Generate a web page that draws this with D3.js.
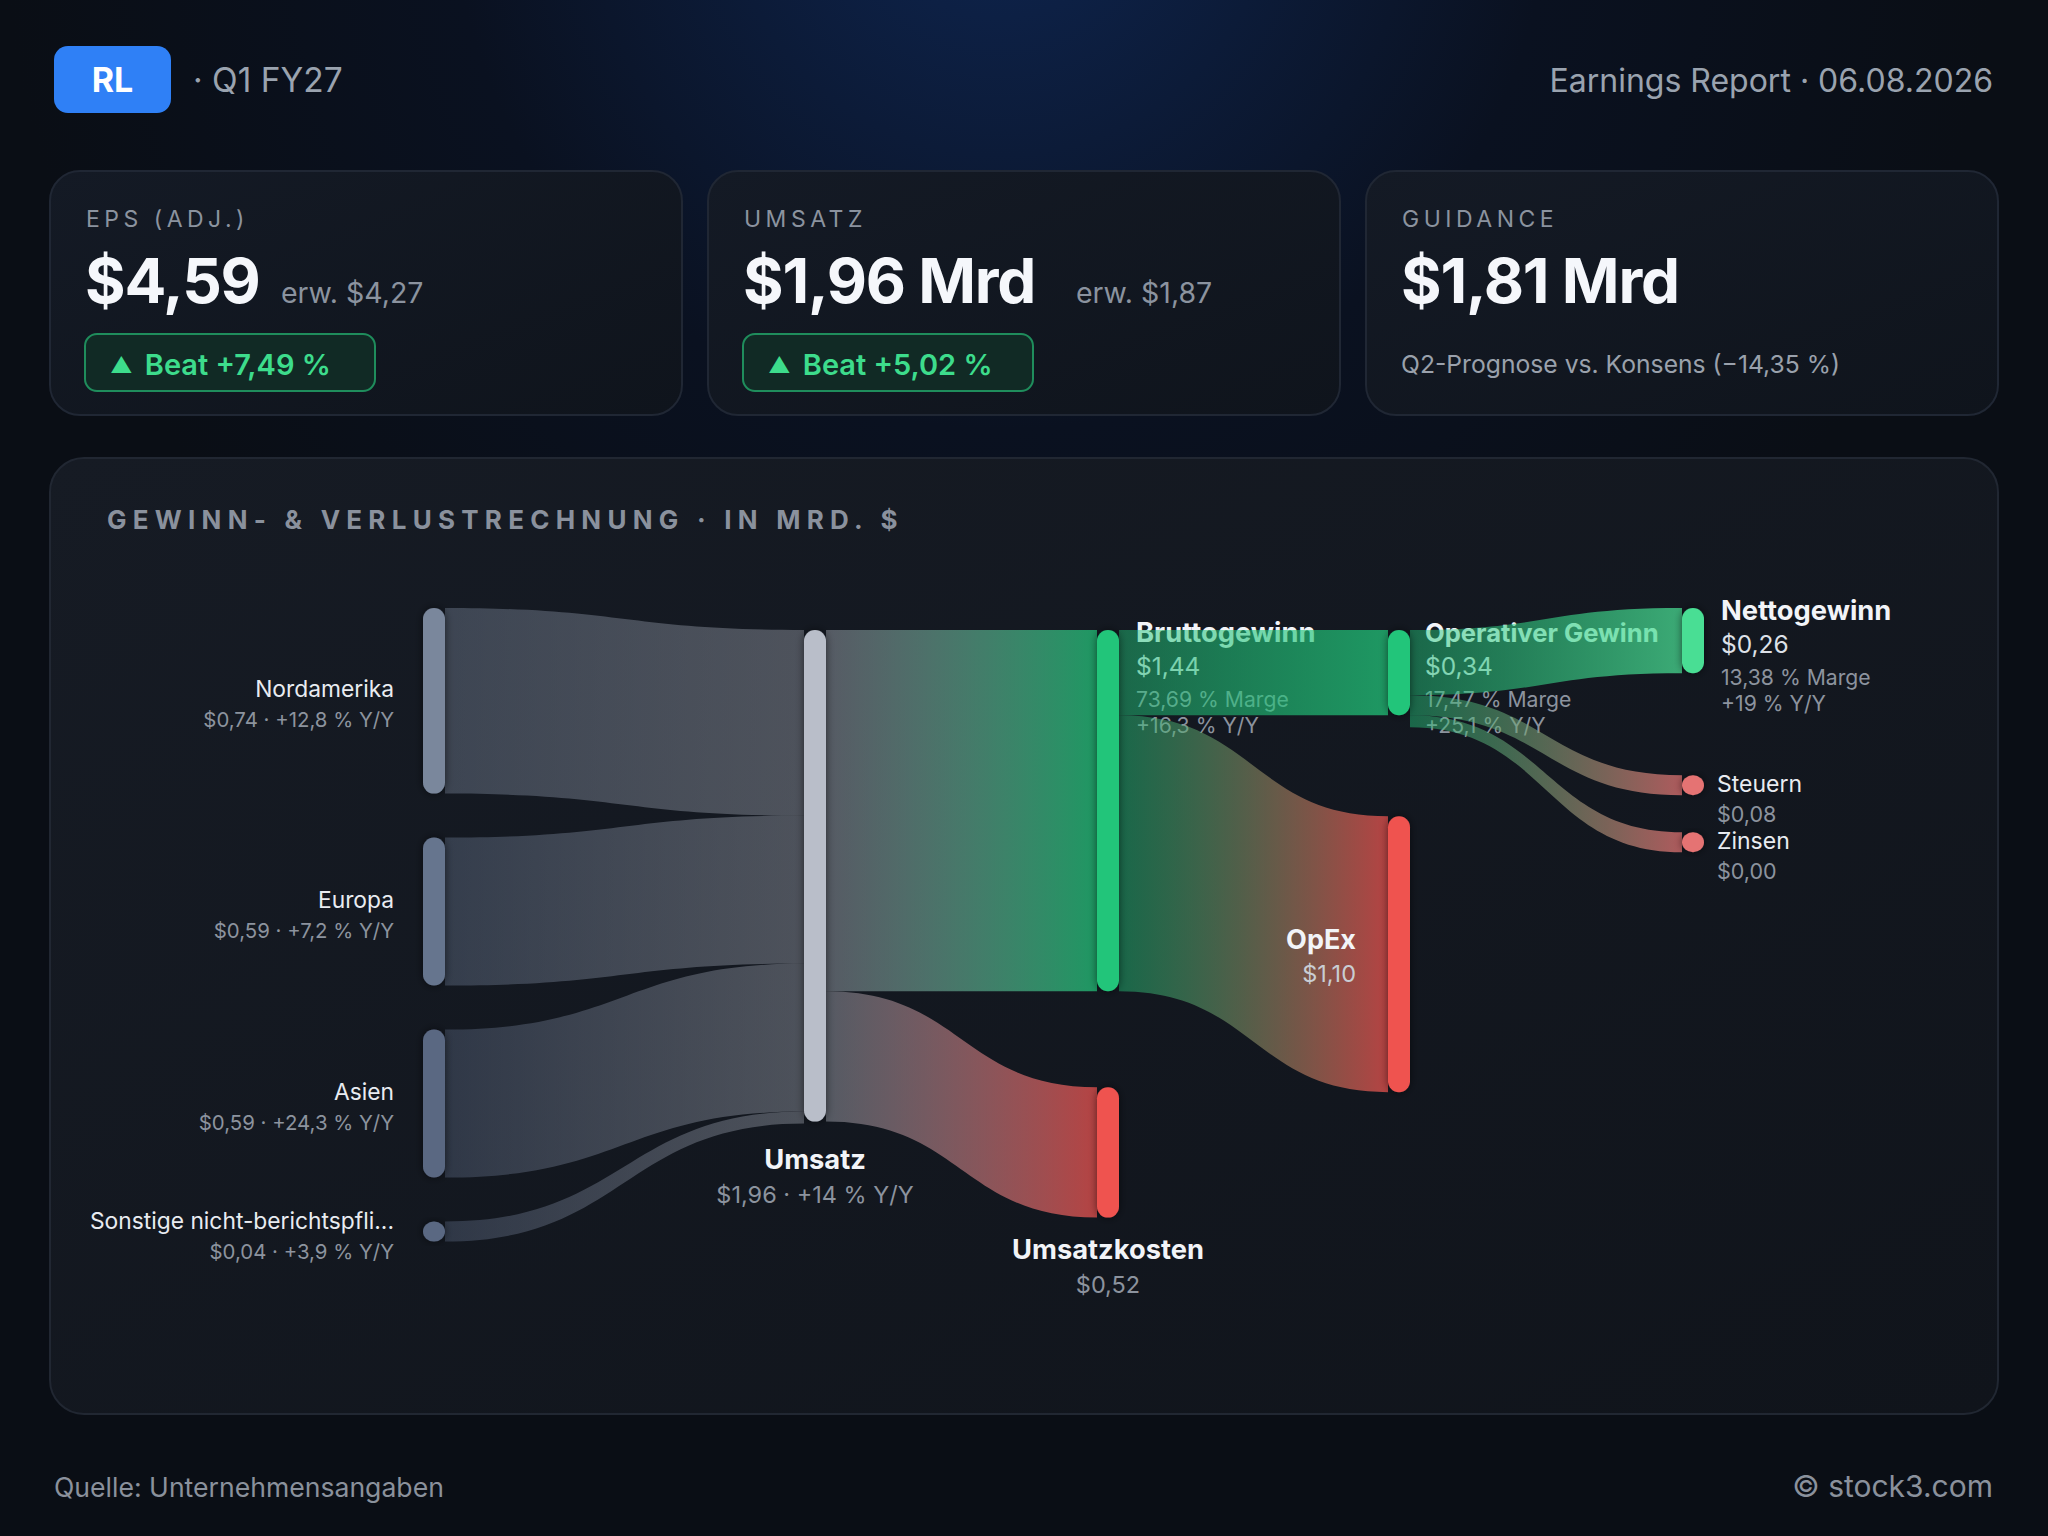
<!DOCTYPE html>
<html>
<head>
<meta charset="utf-8">
<script src="https://cdn.jsdelivr.net/npm/d3@7"></script>
<style>
html, body { margin: 0; padding: 0; background: #0a0e15; }
svg { display: block; font-family: Inter, "Noto Sans", sans-serif; }
</style>
</head>
<body>
<svg id="chart" width="2048" height="1536"></svg>
<script>
// ---- data ----
var ticker = "RL", quarter = "Q1 FY27", reportDate = "06.08.2026";
var source = "Quelle: Unternehmensangaben", brand = "© stock3.com";
var panelTitle = "GEWINN- & VERLUSTRECHNUNG · IN MRD. $";

var kpiLabels   = ["EPS (ADJ.)", "UMSATZ", "GUIDANCE"];
var kpiValues   = ["$4,59", "$1,96 Mrd", "$1,81 Mrd"];
var kpiExpected = ["erw. $4,27", "erw. $1,87", ""];
var kpiBeat     = ["+7,49 %", "+5,02 %", ""];
var guidanceNote = "Q2-Prognose vs. Konsens (−14,35 %)";

var regionNames  = ["Nordamerika", "Europa", "Asien", "Sonstige nicht-berichtspfli..."];
var regionValues = [0.74, 0.59, 0.59, 0.04];
var regionYoY    = ["+12,8 %", "+7,2 %", "+24,3 %", "+3,9 %"];

var plNames  = ["Umsatz", "Bruttogewinn", "Umsatzkosten", "Operativer Gewinn", "OpEx", "Nettogewinn", "Steuern", "Zinsen"];
var plValues = [1.96, 1.44, 0.52, 0.34, 1.10, 0.26, 0.08, 0.00];
var plMargin = [null, "73,69 %", null, "17,47 %", null, "13,38 %", null, null];
var plYoY    = ["+14 %", "+16,3 %", null, "+25,1 %", null, "+19 %", null, null];

var flowFrom   = ["Nordamerika", "Europa", "Asien", "Sonstige nicht-berichtspfli...", "Umsatz", "Umsatz",
                  "Bruttogewinn", "Bruttogewinn", "Operativer Gewinn", "Operativer Gewinn", "Operativer Gewinn"];
var flowTo     = ["Umsatz", "Umsatz", "Umsatz", "Umsatz", "Bruttogewinn", "Umsatzkosten",
                  "Operativer Gewinn", "OpEx", "Nettogewinn", "Steuern", "Zinsen"];
var flowValues = [0.74, 0.59, 0.59, 0.04, 1.44, 0.52, 0.34, 1.10, 0.26, 0.08, 0.00];

// ---- layout / style ----
var nodeColumn = [0, 0, 0, 0, 1, 2, 2, 3, 3, 4, 4, 4];
var nodeColors = ["#7a879c", "#66758e", "#5a6882", "#5a6882", "#b9bec9", "#22c57a", "#ef5350",
                  "#22c57a", "#ef5350", "#4ade94", "#e57373", "#e57373"];
var nodeGrey   = [true, true, true, true, true, false, false, false, false, false, false, false];
var gapAfter   = [44, 44, 44, 0, 0, 96, 0, 101, 0, 102, 37, 0];
var labelMode  = ["left", "left", "left", "left", "below", "right", "below", "right", "inner", "right", "small", "small"];
var labelShift = [0, 0, 0, 1, 2, 0, -4, 0, 0, 0, 0, 0];
var labelDx    = [0, 0, 0, 0, 0, 17, 0, 15, 0, 17, 0, 0];
var nameSize   = [22.8, 22.8, 22.8, 22.8, 27.3, 27.3, 27.3, 25.6, 27, 27.3, 23, 23];
var colTop = [608, 630, 630, 630, 608];
var nodeW = 22, minNode = 20, minLink = 12;

var de = d3.formatLocale({decimal: ",", thousands: ".", grouping: [3], currency: ["$", ""]});
var money = de.format("$.2f");

var svg = d3.select("#chart");
var defs = svg.append("defs");

var glow = defs.append("radialGradient").attr("id", "glow")
	.attr("gradientUnits", "userSpaceOnUse")
	.attr("cx", 1000).attr("cy", -120).attr("r", 1000);
glow.append("stop").attr("offset", 0).attr("stop-color", "#0e2550");
glow.append("stop").attr("offset", 0.55).attr("stop-color", "#0a1120");
glow.append("stop").attr("offset", 1).attr("stop-color", "#0a0e15");

var cardFill = defs.append("linearGradient").attr("id", "cardFill")
	.attr("x1", 0).attr("y1", 0).attr("x2", 1).attr("y2", 1);
cardFill.append("stop").attr("offset", 0).attr("stop-color", "#141a25");
cardFill.append("stop").attr("offset", 1).attr("stop-color", "#0f141c");

var panelFill = defs.append("linearGradient").attr("id", "panelFill")
	.attr("x1", 0).attr("y1", 0).attr("x2", 1).attr("y2", 1);
panelFill.append("stop").attr("offset", 0).attr("stop-color", "#161b24");
panelFill.append("stop").attr("offset", 1).attr("stop-color", "#10141b");

var shadow = defs.append("filter").attr("id", "shadow")
	.attr("x", "-100%").attr("y", "-20%").attr("width", "300%").attr("height", "140%");
shadow.append("feDropShadow").attr("dx", 0).attr("dy", 0).attr("stdDeviation", 4)
	.attr("flood-color", "#000").attr("flood-opacity", 0.55);

svg.append("rect").attr("width", 2048).attr("height", 1536).attr("fill", "url(#glow)");

// ---- header ----
svg.append("rect").attr("x", 54).attr("y", 46).attr("width", 117).attr("height", 67)
	.attr("rx", 14).attr("fill", "#2f80f6");
svg.append("text").attr("x", 112.5).attr("y", 92).attr("text-anchor", "middle")
	.attr("fill", "#fff").attr("font-size", 34).attr("font-weight", 700).text(ticker);
svg.append("text").attr("x", 193).attr("y", 92).attr("fill", "#9aa3af")
	.attr("font-size", 33.5).text("· " + quarter);
svg.append("text").attr("x", 1993).attr("y", 92).attr("text-anchor", "end").attr("fill", "#9aa3af")
	.attr("font-size", 32).text("Earnings Report · " + reportDate);

// ---- KPI cards ----
var expectedDx = [195, 332, 0];
var cards = svg.selectAll("g.card").data(kpiLabels).enter().append("g")
	.attr("class", "card")
	.attr("transform", (d, i) => `translate(${50 + i * 658},171)`);

cards.append("rect").attr("width", 632).attr("height", 244).attr("rx", 30)
	.attr("fill", "url(#cardFill)").attr("stroke", "#202734").attr("stroke-width", 2);
cards.append("text").attr("x", 36).attr("y", 56).attr("fill", "#8b939f")
	.attr("font-size", 23).attr("letter-spacing", 4.5).text(d => d);
cards.append("text").attr("x", 35).attr("y", 132).attr("fill", "#f5f7fb")
	.attr("font-size", 62).attr("font-weight", 700).attr("letter-spacing", -1.2)
	.text((d, i) => kpiValues[i]);
cards.append("text").attr("x", (d, i) => 36 + expectedDx[i]).attr("y", 132).attr("fill", "#8b939f")
	.attr("font-size", 28.5).text((d, i) => kpiExpected[i]);

var beat = cards.filter((d, i) => kpiBeat[i] !== "");
beat.append("rect").attr("x", 35).attr("y", 163).attr("width", 290).attr("height", 57).attr("rx", 12)
	.attr("fill", "#112a25").attr("stroke", "#1f8d5c").attr("stroke-width", 2);
var beatText = beat.append("text").attr("x", 60).attr("y", 204).attr("fill", "#3ddc8c")
	.attr("font-size", 29).attr("font-weight", 600);
beatText.append("tspan").attr("font-size", 22).attr("dy", -2).text("▲");
beatText.append("tspan").attr("dx", 12).attr("dy", 2)
	.text(d => "Beat " + kpiBeat[kpiLabels.indexOf(d)]);

cards.filter((d, i) => kpiBeat[i] === "").append("text")
	.attr("x", 35).attr("y", 202).attr("fill", "#9aa1ac").attr("font-size", 24.7)
	.text(guidanceNote);

// ---- P&L panel ----
svg.append("rect").attr("x", 50).attr("y", 458).attr("width", 1948).attr("height", 956).attr("rx", 34)
	.attr("fill", "url(#panelFill)").attr("stroke", "#212732").attr("stroke-width", 2);
svg.append("text").attr("x", 107).attr("y", 529).attr("fill", "#8a919d")
	.attr("font-size", 26).attr("font-weight", 700).attr("letter-spacing", 6.25).text(panelTitle);

var colX = d3.scaleOrdinal().domain([0, 1, 2, 3, 4]).range([423, 804, 1097, 1388, 1682]);
var y = d3.scaleLinear().domain([0, 1.96]).range([0, 491.6]);

var allNames  = regionNames.concat(plNames);
var allValues = regionValues.concat(plValues);

var nodes = allNames.map((name, i) => ({
	name: name, value: allValues[i], col: nodeColumn[i], color: nodeColors[i],
	grey: nodeGrey[i], mode: labelMode[i], shift: labelShift[i], i: i
}));
var byName = new Map(nodes.map(n => [n.name, n]));
var links = flowFrom.map((s, i) => ({source: byName.get(s), target: byName.get(flowTo[i]), value: flowValues[i], i: i}));

nodes.forEach(n => {
	n.out = links.filter(l => l.source === n);
	n.in  = links.filter(l => l.target === n);
});

d3.groups(nodes, n => n.col).forEach(([c, list]) => {
	var cursor = colTop[c];
	list.forEach(n => {
		n.h = Math.max(y(n.value), minNode);
		n.y0 = cursor; n.y1 = cursor + n.h;
		n.x0 = colX(c); n.x1 = n.x0 + nodeW;
		cursor = n.y1 + gapAfter[n.i];
	});
});

nodes.forEach(n => {
	var c = n.y0;
	n.out.forEach(l => {
		var w = n.out.length === 1 ? n.h : Math.max(y(l.value), minLink);
		l.sy0 = c; l.sy1 = c + w; c += w;
	});
	c = n.y0;
	n.in.forEach(l => {
		var w = n.in.length === 1 ? n.h : Math.max(y(l.value), minLink);
		l.ty0 = c; l.ty1 = c + w; c += w;
	});
});

function linkPath(d) {
	var x0 = d.source.x1, x1 = d.target.x0, xm = (x0 + x1) / 2;
	return `M${x0},${d.sy0}C${xm},${d.sy0} ${xm},${d.ty0} ${x1},${d.ty0}` +
		`L${x1},${d.ty1}C${xm},${d.ty1} ${xm},${d.sy1} ${x0},${d.sy1}Z`;
}

links.forEach(l => {
	var g = defs.append("linearGradient").attr("id", "lg" + l.i)
		.attr("gradientUnits", "userSpaceOnUse")
		.attr("x1", l.source.x1).attr("x2", l.target.x0).attr("y1", 0).attr("y2", 0);
	g.append("stop").attr("offset", 0).attr("stop-color", l.source.color)
		.attr("stop-opacity", l.source.grey ? 0.4 : 0.46);
	g.append("stop").attr("offset", 1).attr("stop-color", l.target.color)
		.attr("stop-opacity", l.target.grey ? 0.35 : 0.74);
});

var labelsUnder = svg.append("g");
var linkLayer = svg.append("g");
var nodeLayer = svg.append("g");
var labelsOver = svg.append("g");

linkLayer.selectAll("path").data(links).enter().append("path")
	.attr("d", linkPath)
	.attr("fill", d => `url(#lg${d.i})`);

nodeLayer.selectAll("rect").data(nodes).enter().append("rect")
	.attr("x", d => d.x0).attr("y", d => d.y0)
	.attr("width", nodeW).attr("height", d => d.h)
	.attr("rx", nodeW / 2)
	.attr("fill", d => d.color)
	.attr("filter", "url(#shadow)");

function addText(g, x, yy, txt, size, color, weight, anchor) {
	g.append("text").attr("x", x).attr("y", yy).attr("font-size", size)
		.attr("fill", color).attr("font-weight", weight || 400)
		.attr("text-anchor", anchor || "start").text(txt);
}

nodes.forEach(n => {
	var cy = (n.y0 + n.y1) / 2 + n.shift;
	var cx = (n.x0 + n.x1) / 2;
	var j = n.i - regionNames.length;
	var fs = nameSize[n.i];
	if (n.mode === "left") {
		addText(labelsOver, n.x0 - 29, cy - 4, n.name, fs, "#e9ecf1", 400, "end");
		addText(labelsOver, n.x0 - 29, cy + 26, money(n.value) + " · " + regionYoY[n.i] + " Y/Y", 20.4, "#8c939e", 400, "end");
	} else if (n.mode === "below") {
		var sub = money(n.value) + (plYoY[j] ? " · " + plYoY[j] + " Y/Y" : "");
		addText(labelsOver, cx, n.y1 + 45 + n.shift, n.name, fs, "#f2f4f8", 700, "middle");
		addText(labelsOver, cx, n.y1 + 79 + n.shift, sub, 23.5, "#8c939e", 400, "middle");
	} else if (n.mode === "right") {
		var g = labelsUnder, x = n.x1 + labelDx[n.i];
		addText(g, x, n.y0 + 12, n.name, fs, "#f2f4f8", 700);
		addText(g, x, n.y0 + 45, money(n.value), 24.5, "#dde1e8", 400);
		addText(g, x, n.y0 + 77, plMargin[j] + " Marge", 21.2, "#8c939e", 400);
		addText(g, x, n.y0 + 103, plYoY[j] + " Y/Y", 21.2, "#8c939e", 400);
	} else if (n.mode === "inner") {
		addText(labelsOver, n.x0 - 32, cy - 5, n.name, fs, "#f2f4f8", 700, "end");
		addText(labelsOver, n.x0 - 32, cy + 28, money(n.value), 23.5, "#c9cdd3", 400, "end");
	} else {
		addText(labelsOver, n.x1 + 13, n.y0 + 17, n.name, fs, "#e9ecf1", 400);
		addText(labelsOver, n.x1 + 13, n.y0 + 47, money(n.value), 21.5, "#8c939e", 400);
	}
});

// ---- footer ----
svg.append("text").attr("x", 54).attr("y", 1497).attr("fill", "#8a919c")
	.attr("font-size", 26.6).text(source);
svg.append("text").attr("x", 1993).attr("y", 1497).attr("text-anchor", "end").attr("fill", "#8a919c")
	.attr("font-size", 30).text(brand);
</script>
</body>
</html>
